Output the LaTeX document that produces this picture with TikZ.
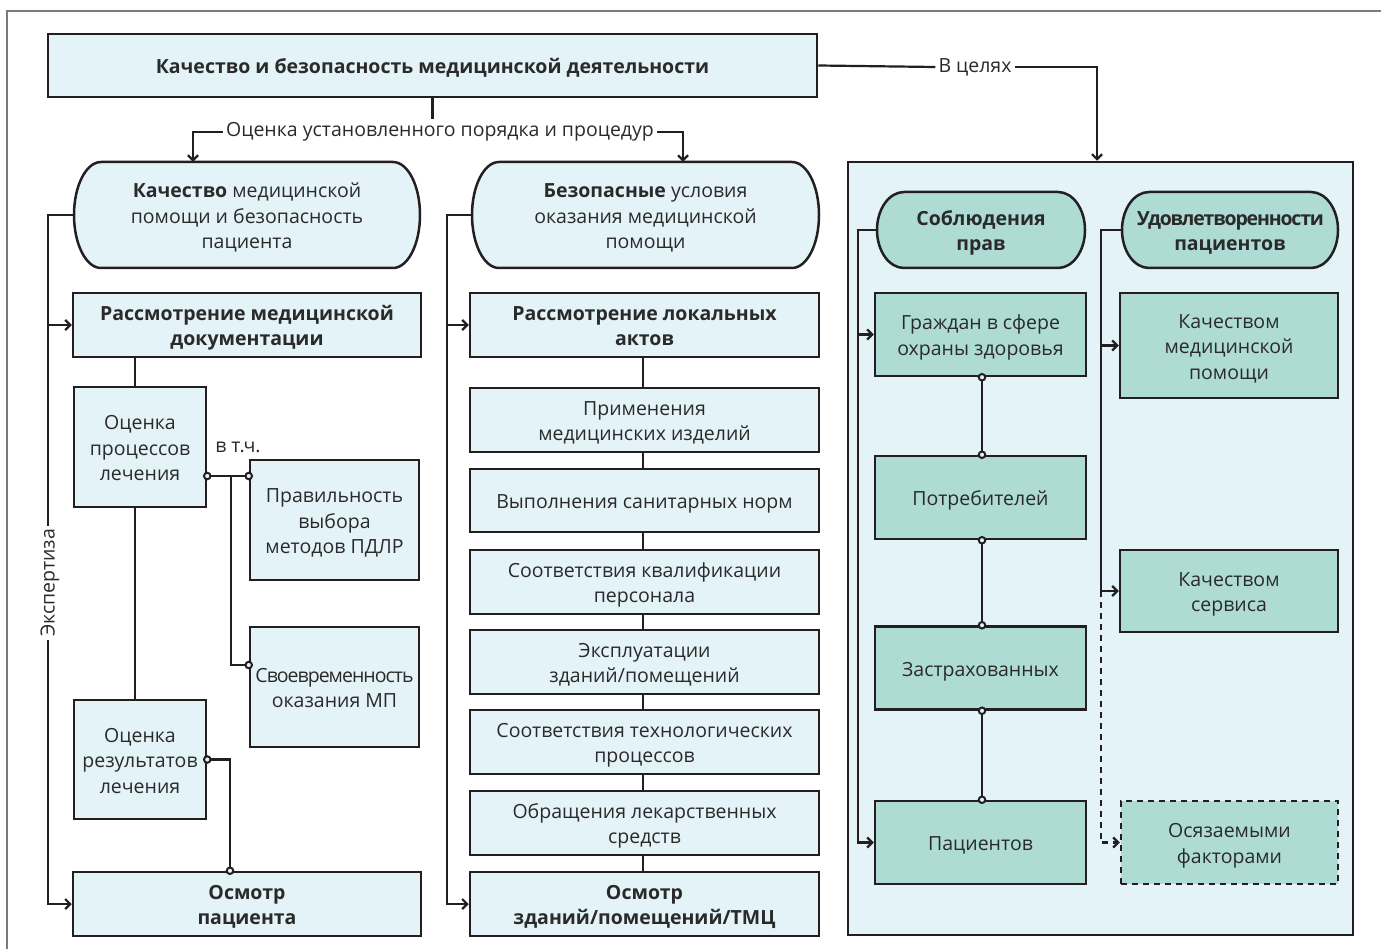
\documentclass[tikz,border=0pt]{standalone}
\usepackage{fontspec}
\setmainfont{Open Sans}
\usetikzlibrary{arrows.meta,calc}
\definecolor{lc}{HTML}{231F20}
\definecolor{tc}{HTML}{2A2A2A}
\definecolor{lb}{HTML}{E3F3F8}
\definecolor{tl}{HTML}{AEDCD4}
\definecolor{fr}{HTML}{7A7A7A}
\newcommand\fs{\fontsize{19.5}{25.5}\selectfont}
\newcommand\tx[1]{\raisebox{-3pt}[\height][\depth]{\begin{tabular}{@{}c@{}}#1\end{tabular}}}
\newcommand\tight[2]{{\addfontfeature{LetterSpace=#1}#2}}
\newcommand\stadium[5]{%
 \pgfmathsetmacro\stXa{#1+27}%
 \pgfmathsetmacro\stXb{#3-27}%
 \pgfmathsetmacro\stYm{(#2+#4)/2}%
 \pgfmathsetmacro\stK{0.5523*(#4-#2)/2}%
 \draw[line width=2.5pt,draw=lc,fill=#5] (\stXa,#2) -- (\stXb,#2)
   .. controls (\stXb+14.9,#2) and (#3,\stYm-\stK) .. (#3,\stYm)
   .. controls (#3,\stYm+\stK) and (\stXb+14.9,#4) .. (\stXb,#4) -- (\stXa,#4)
   .. controls (\stXa-14.9,#4) and (#1,\stYm+\stK) .. (#1,\stYm)
   .. controls (#1,\stYm-\stK) and (\stXa-14.9,#2) .. (\stXa,#2) -- cycle;}
\tikzset{
 ln/.style={line width=2.2pt, draw=lc},
 arr/.style={-{Straight Barb[length=5pt,width=10pt,line width=2.2pt]}},
 dsh/.style={dash pattern=on 6pt off 5pt},
 bx/.style 2 args={draw=lc, line width=2.5pt, fill=lb, align=center, inner sep=0pt,
   font=\fs, text=tc, minimum width=#1pt, minimum height=#2pt},
 tb/.style 2 args={bx={#1}{#2}, fill=tl},
 st/.style 2 args={draw=none, fill=none, align=center, inner sep=0pt,
   font=\fs, text=tc, minimum width=#1pt, minimum height=#2pt},
 lab/.style={font=\fs, text=tc, inner sep=3pt},
 jd/.style={circle, draw=lc, fill=lb, line width=2pt, minimum size=6.5pt, inner sep=0pt},
}
\begin{document}
\begin{tikzpicture}[x=1pt,y=-1pt]
\useasboundingbox (0,0) rectangle (1381,949);
% outer frame (top and left edges)
\draw[fr, line width=1.4pt] (7,949) -- (7,11) -- (1381,11);
% right panel
\node[bx={505}{773}] (panel) at (1100.5,548.5) {};
% stadium outlines
\stadium{74}{162}{420}{268}{lb}
\stadium{472}{162}{819}{268}{lb}
\stadium{877}{192}{1085}{268}{tl}
\stadium{1122}{192}{1338}{268}{tl}
% top
\node[bx={769}{63}] (top) at (432.5,65.5) {\tx{\textbf{Качество и безопасность медицинской деятельности}}};
\node[lab] (lab1) at (440,132) {Оценка установленного порядка и процедур};
\node[lab] (lab2) at (975,67) {В целях};
% stadium nodes
\node[st={346}{106}] (s1) at (247,215) {\tx{\textbf{Качество} медицинской\\помощи и безопасность\\пациента}};
\node[st={347}{106}] (s2) at (645.5,215) {\tx{\textbf{Безопасные} условия\\оказания медицинской\\помощи}};
\node[st={208}{76}] (s3) at (981,230) {\tx{\textbf{Соблюдения}\\\textbf{прав}}};
\node[st={216}{76}] (s4) at (1230,230) {\tx{\textbf{\tight{-6}{Удовлетворенности}}\\\textbf{пациентов}}};
% left column
\node[bx={348}{64}] (r1) at (247,325) {\tx{\textbf{Рассмотрение медицинской}\\\textbf{документации}}};
\node[bx={132}{120}] (p1) at (140,447) {\tx{Оценка\\процессов\\лечения}};
\node[bx={169}{120}] (pr) at (334.5,520) {\tx{Правильность\\выбора\\методов ПДЛР}};
\node[bx={169}{120}] (sv) at (334.5,687) {\tx{\tight{-5}{Своевременность}\\оказания МП}};
\node[bx={132}{119}] (p2) at (140,759.5) {\tx{Оценка\\результатов\\лечения}};
\node[bx={348}{64}] (o1) at (247,904) {\tx{\textbf{Осмотр}\\\textbf{пациента}}};
\node[lab] (vtch) at (238,447) {в т.ч.};
\node[lab, rotate=90] (ex) at (50,583) {Экспертиза};
% middle column
\node[bx={349}{64}] (r2) at (644.5,325) {\tx{\textbf{Рассмотрение локальных}\\\textbf{актов}}};
\node[bx={349}{64}] (m1) at (644.5,420) {\tx{Применения\\медицинских изделий}};
\node[bx={349}{63}] (m2) at (644.5,500.5) {\tx{Выполнения санитарных норм}};
\node[bx={349}{64}] (m3) at (644.5,582) {\tx{Соответствия квалификации\\персонала}};
\node[bx={349}{64}] (m4) at (644.5,662) {\tx{Эксплуатации\\зданий/помещений}};
\node[bx={349}{64}] (m5) at (644.5,742) {\tx{Соответствия технологических\\процессов}};
\node[bx={349}{64}] (m6) at (644.5,823) {\tx{Обращения лекарственных\\средств}};
\node[bx={349}{64}] (o2) at (644.5,904) {\tx{\textbf{Осмотр}\\\textbf{зданий/помещений/ТМЦ}}};
% right panel contents
\node[tb={211}{83}] (g1) at (980.5,334.5) {\tx{Граждан в сфере\\охраны здоровья}};
\node[tb={211}{83}] (g2) at (980.5,497.5) {\tx{Потребителей}};
\node[tb={211}{83}] (g3) at (980.5,668) {\tx{Застрахованных}};
\node[tb={211}{83}] (g4) at (980.5,842.5) {\tx{Пациентов}};
\node[tb={218}{105}] (k1) at (1229,345.5) {\tx{Качеством\\медицинской\\помощи}};
\node[tb={218}{82}] (k2) at (1229,591) {\tx{Качеством\\сервиса}};
\node[tb={217}{83}, dsh] (k3) at (1229.5,842.5) {\tx{Осязаемыми\\факторами}};
% ---- connectors: top
\draw[ln] (top.south) -- (top.south |- lab1.north);
\draw[ln,arr] (lab1.west) -| ([xshift=-54pt]s1.north);
\draw[ln,arr] (lab1.east) -| ([xshift=37.5pt]s2.north);
\draw[ln] (top.east) -- (lab2.west);
\draw[ln,arr] (lab2.east) -| ([xshift=-3.5pt]panel.north);
% ---- left column
\coordinate (e1) at ([xshift=-26pt]s1.west);
\draw[ln] (s1.west) -- (e1) -- (e1 |- ex.east);
\draw[ln,arr] (e1 |- ex.west) |- (o1.west);
\draw[ln,arr] (e1 |- r1.west) -- (r1.west);
\draw[ln] ([xshift=-5pt]p1.north) -- ([xshift=-5pt]p1.north |- r1.south);
\draw[ln] ([xshift=-5pt]p1.south) -- ([xshift=-5pt]p2.north);
\coordinate (c1) at ([yshift=-29pt]p1.east);
\coordinate (c2) at ([xshift=24pt]c1);
\coordinate (c3) at ([yshift=22pt]sv.west);
\coordinate (c4) at ([xshift=-17pt]o1.north);
\draw[ln] (c1) -- (c1 -| pr.west);
\draw[ln] (c2) |- (c3);
\draw[ln] (p2.east) -| (c4);
\node[jd] (j1) at (c1) {};
\node[jd] (j2) at (c1 -| pr.west) {};
\node[jd] (j3) at (c3) {};
\node[jd] (j4) at (p2.east) {};
\node[jd] (j5) at (c4) {};
% ---- middle column
\coordinate (e2) at ([xshift=-25pt]s2.west);
\draw[ln,arr] (s2.west) -- (e2) |- (o2.west);
\draw[ln,arr] (e2 |- r2.west) -- (r2.west);
\draw[ln] ([xshift=-1.5pt]r2.south) -- ([xshift=-1.5pt]m1.north);
\draw[ln] ([xshift=-1.5pt]m1.south) -- ([xshift=-1.5pt]m2.north);
\draw[ln] ([xshift=-1.5pt]m2.south) -- ([xshift=-1.5pt]m3.north);
\draw[ln] ([xshift=-1.5pt]m3.south) -- ([xshift=-1.5pt]m4.north);
\draw[ln] ([xshift=-1.5pt]m4.south) -- ([xshift=-1.5pt]m5.north);
\draw[ln] ([xshift=-1.5pt]m5.south) -- ([xshift=-1.5pt]m6.north);
\draw[ln] ([xshift=-1.5pt]m6.south) -- ([xshift=-1.5pt]o2.north);
% ---- right panel
\coordinate (e3) at ([xshift=-19pt]s3.west);
\draw[ln,arr] (s3.west) -- (e3) |- (g4.west);
\draw[ln,arr] (e3 |- g1.west) -- (g1.west);
\foreach \a/\b [count=\i] in {g1/g2,g2/g3,g3/g4}{
  \draw[ln] ([xshift=1.5pt]\a.south) -- ([xshift=1.5pt]\b.north);
  \node[jd] (ja\i) at ([xshift=1.5pt]\a.south) {};
  \node[jd] (jb\i) at ([xshift=1.5pt]\b.north) {};
}
\coordinate (e4) at ([xshift=-21pt]s4.west);
\draw[ln,arr] (s4.west) -- (e4) |- (k2.west);
\draw[ln,arr] (e4 |- k1.west) -- (k1.west);
\draw[ln,dsh,arr] (e4 |- k2.west) |- (k3.west);
\end{tikzpicture}
\end{document}
